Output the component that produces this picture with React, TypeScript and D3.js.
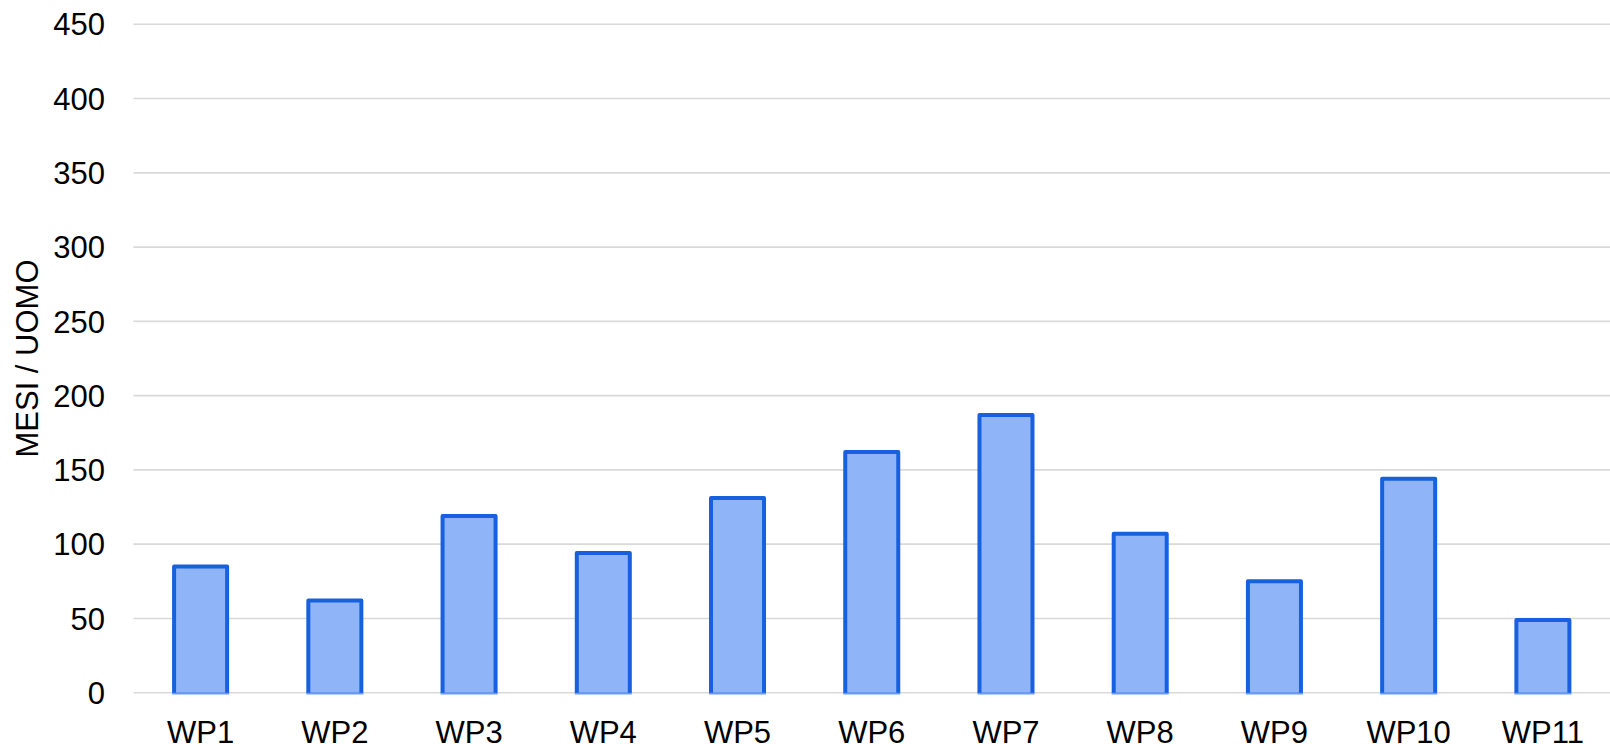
import React, { useEffect, useRef } from 'react';
import * as d3 from 'd3';

const categories = ['WP1', 'WP2', 'WP3', 'WP4', 'WP5', 'WP6', 'WP7', 'WP8', 'WP9', 'WP10', 'WP11'];
const values = [85, 62, 119, 94, 131, 162, 187, 107, 75, 144, 49];
const yTicks = [0, 50, 100, 150, 200, 250, 300, 350, 400, 450];
const yTitle = 'MESI / UOMO';

const App: React.FC = () => {
  const ref = useRef<SVGSVGElement>(null);

  useEffect(() => {
    const width = 1610;
    const height = 744;
    const margin = { top: 24.3, right: 0, bottom: 51.3, left: 133.5 };
    const font = '"Liberation Sans", Arial, sans-serif';

    const svg = d3.select(ref.current);
    svg.selectAll('*').remove();

    const x = d3.scaleBand()
      .domain(categories)
      .range([margin.left, width - margin.right])
      .paddingInner(0.605)
      .paddingOuter(0.3025);
    const y = d3.scaleLinear()
      .domain([0, 450])
      .range([height - margin.bottom, margin.top]);

    // grid
    svg.append('g')
      .selectAll('line')
      .data(yTicks)
      .join('line')
      .attr('x1', margin.left)
      .attr('x2', width - margin.right)
      .attr('y1', d => y(d))
      .attr('y2', d => y(d))
      .attr('stroke', '#d9d9d9')
      .attr('stroke-width', 1.6);

    // y tick labels
    svg.append('g')
      .selectAll('text')
      .data(yTicks)
      .join('text')
      .attr('x', 105)
      .attr('y', d => y(d))
      .attr('dy', '0.36em')
      .attr('text-anchor', 'end')
      .style('font-family', font)
      .style('font-size', '31px')
      .attr('fill', '#000')
      .text(d => d);

    // bars
    const bars = svg.append('g')
      .selectAll('g')
      .data(categories.map((c, i) => ({ c, v: values[i] })))
      .join('g');

    bars.append('rect')
      .attr('x', d => x(d.c)!)
      .attr('y', d => y(d.v))
      .attr('width', x.bandwidth())
      .attr('height', d => y(0) - y(d.v))
      .attr('fill', '#8fb5f8');

    bars.append('line')
      .attr('x1', d => x(d.c)! - 2)
      .attr('x2', d => x(d.c)! + x.bandwidth() + 2)
      .attr('y1', y(0) + 0.5)
      .attr('y2', y(0) + 0.5)
      .attr('stroke', '#6a9bf0')
      .attr('stroke-width', 2.5);

    bars.append('path')
      .attr('d', d => {
        const x0 = x(d.c)!;
        const x1 = x0 + x.bandwidth();
        return `M${x0},${y(0)}V${y(d.v)}H${x1}V${y(0)}`;
      })
      .attr('fill', 'none')
      .attr('stroke', '#1760e0')
      .attr('stroke-width', 4)
      .attr('stroke-linejoin', 'round');

    // x labels
    svg.append('g')
      .selectAll('text')
      .data(categories)
      .join('text')
      .attr('x', d => x(d)! + x.bandwidth() / 2)
      .attr('y', 742.5)
      .attr('text-anchor', 'middle')
      .style('font-family', font)
      .style('font-size', '31px')
      .attr('fill', '#000')
      .text(d => d);

    // y title
    svg.append('text')
      .attr('transform', `translate(38,${(margin.top + height - margin.bottom) / 2}) rotate(-90)`)
      .attr('text-anchor', 'middle')
      .style('font-family', font)
      .style('font-size', '31px')
      .attr('fill', '#000')
      .text(yTitle);
  }, []);

  return (
    <svg
      ref={ref}
      width={1610}
      height={744}
      style={{ position: 'absolute', left: 0, top: 0, background: '#fff' }}
    />
  );
};

export default App;
